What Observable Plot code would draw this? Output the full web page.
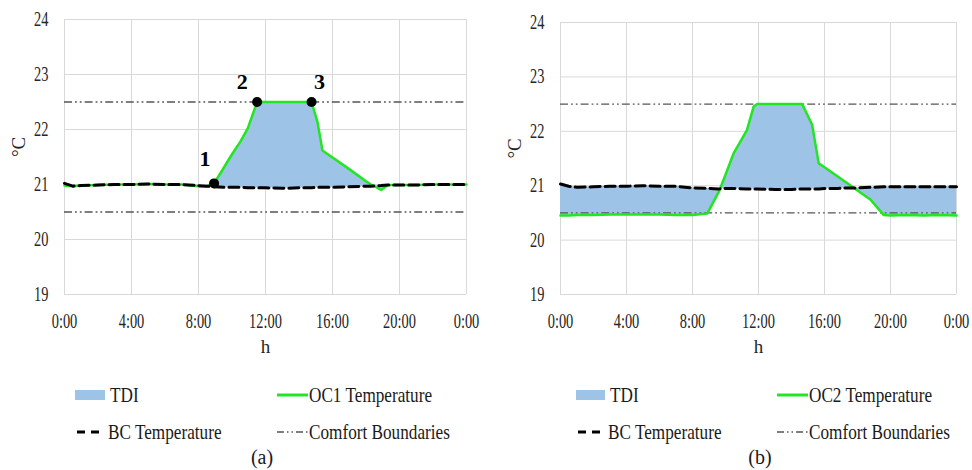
<!DOCTYPE html>
<html>
<head>
<meta charset="utf-8">
<script src="https://cdn.jsdelivr.net/npm/d3@7"></script>
<script src="https://cdn.jsdelivr.net/npm/@observablehq/plot@0.6"></script>
<style>
  html, body { margin: 0; padding: 0; background: #fff; }
  #page { position: relative; width: 972px; height: 470px; overflow: hidden; font-family: "Liberation Serif", "Times New Roman", serif; }
  #page > * { position: absolute; }
  #page svg { overflow: visible; }
</style>
</head>
<body>
<div id="page"></div>
<script>
// ---------- data ----------
const hourTicks = [0, 4, 8, 12, 16, 20, 24];
const tempTicks = [19, 20, 21, 22, 23, 24];
const comfort = [20.5, 22.5];

// panel (a)
const timesA = [0, 0.5, 1, 2, 3, 4, 5, 6, 7, 8, 8.5, 8.93, 9.5, 10, 10.5, 10.94, 11.5, 12, 13, 14, 14.75, 15.1, 15.4, 16, 17, 18, 18.3, 18.9, 19.3, 20, 21, 22, 23, 24];
const bcA = [21.02, 20.97, 20.98, 20.99, 21.0, 21.0, 21.01, 21.0, 21.0, 20.98, 20.97, 20.96, 20.95, 20.95, 20.95, 20.94, 20.94, 20.94, 20.93, 20.94, 20.94, 20.95, 20.95, 20.95, 20.96, 20.97, 20.97, 20.98, 20.99, 20.99, 20.99, 21.0, 21.0, 21.0];
const oc1 = [20.98, 20.97, 20.98, 20.99, 21.0, 21.0, 21.01, 21.0, 21.0, 20.97, 20.97, 21.02, 21.3, 21.55, 21.78, 22.02, 22.5, 22.5, 22.5, 22.5, 22.5, 22.14, 21.62, 21.49, 21.28, 21.06, 21.0, 20.9, 20.99, 20.99, 20.99, 21.0, 21.0, 21.0];
const pointHours = [8.93, 11.5, 14.75];
const pointTemps = [21.02, 22.5, 22.5];
const pointLabels = ["1", "2", "3"];

// panel (b)
const timesB = [0, 0.5, 1, 2, 3, 4, 5, 6, 7, 8, 8.9, 9.6, 10, 10.5, 11.3, 11.7, 11.9, 13, 14, 14.65, 15.25, 15.65, 16, 16.8, 17.6, 18, 18.8, 19.6, 20, 21, 22, 23, 24];
const bcB = [21.03, 20.99, 20.97, 20.98, 20.99, 20.99, 21.0, 20.99, 20.99, 20.96, 20.95, 20.94, 20.95, 20.95, 20.94, 20.94, 20.94, 20.93, 20.93, 20.94, 20.94, 20.94, 20.95, 20.95, 20.96, 20.96, 20.97, 20.98, 20.98, 20.98, 20.98, 20.98, 20.98];
const oc2 = [20.45, 20.45, 20.46, 20.46, 20.47, 20.47, 20.47, 20.47, 20.46, 20.46, 20.49, 20.89, 21.2, 21.6, 22.02, 22.45, 22.5, 22.5, 22.5, 22.5, 22.12, 21.41, 21.34, 21.17, 21.0, 20.91, 20.74, 20.46, 20.45, 20.46, 20.45, 20.46, 20.45];

const legendA = ["TDI", "OC1 Temperature", "BC Temperature", "Comfort Boundaries"];
const legendB = ["TDI", "OC2 Temperature", "BC Temperature", "Comfort Boundaries"];
const captions = ["(a)", "(b)"];

// ---------- styles ----------
const FONT = '"Liberation Serif", "Times New Roman", serif';
const GREEN = "#22e622";
const FILL = "#9dc3e6";
const GRID = "#d9d9d9";
const COMFORT_DASH = "8,3,1.8,3,1.8,3";

function panel({times, bc, oc, marginLeft, marginRight, marginTop, extra = []}) {
  const rows = times.map((t, i) => ({t, bc: bc[i], oc: oc[i]}));
  return Plot.plot({
    width: 486, height: 370,
    marginLeft, marginRight, marginTop, marginBottom: 76,
    x: {domain: [0, 24]},
    y: {domain: [19, 24]},
    style: {fontFamily: FONT, fontSize: "20px", color: "#262626", background: "white", overflow: "visible"},
    marks: [
      Plot.gridX(hourTicks, {stroke: GRID, strokeOpacity: 1, strokeWidth: 1}),
      Plot.gridY(tempTicks, {stroke: GRID, strokeOpacity: 1, strokeWidth: 1}),
      Plot.areaY(rows, {x: "t", y1: "bc", y2: "oc", fill: FILL}),
      Plot.ruleY(comfort, {stroke: "#555", strokeWidth: 1.3, strokeDasharray: COMFORT_DASH}),
      Plot.lineY(rows, {x: "t", y: "oc", stroke: GREEN, strokeWidth: 2.5}),
      Plot.lineY(rows, {x: "t", y: "bc", stroke: "#000", strokeWidth: 3, strokeDasharray: "10,5"}),
      Plot.axisX(hourTicks, {tickSize: 0, tickPadding: 19, tickFormat: h => `${h % 24}:00`, label: null}),
      Plot.axisY(tempTicks, {tickSize: 0, tickPadding: 16, tickFormat: d => String(d), label: null}),
      Plot.text(["°C"], {frameAnchor: "left", dx: -46, rotate: -90, fontSize: 19}),
      Plot.text(["h"], {frameAnchor: "bottom", dy: 58, fontSize: 19}),
      ...extra
    ]
  });
}

const pts = pointHours.map((h, i) => ({h, v: pointTemps[i], label: pointLabels[i]}));
const labelOffsets = [[-9, -24], [-15, -20], [8, -20]];
const annot = [
  Plot.dot(pts, {x: "h", y: "v", r: 5, fill: "#000"}),
  ...pts.map((p, i) => Plot.text([p], {x: "h", y: "v", text: "label", dx: labelOffsets[i][0], dy: labelOffsets[i][1], fontSize: 22, fontWeight: "bold", fill: "#000"}))
];

const page = document.getElementById("page");
const svgA = panel({times: timesA, bc: bcA, oc: oc1, marginLeft: 64, marginRight: 20, marginTop: 19, extra: annot});
const svgB = panel({times: timesB, bc: bcB, oc: oc2, marginLeft: 74, marginRight: 16, marginTop: 22});
svgA.style.left = "0px"; svgA.style.top = "0px";
svgB.style.left = "486px"; svgB.style.top = "0px";
page.appendChild(svgA);
page.appendChild(svgB);

// condense text horizontally (narrow serif look)
function condense(sel, k) {
  sel.forEach(t => {
    const tr = t.getAttribute("transform");
    if (tr) {
      t.setAttribute("transform", tr + ` scale(${k},1)`);
    } else {
      const x = +t.getAttribute("x") || 0;
      t.setAttribute("transform", `translate(${x},0) scale(${k},1) translate(${-x},0)`);
    }
  });
}
[svgA, svgB].forEach(s => condense(s.querySelectorAll('g[aria-label$="tick label"] text'), 0.72));

// ---------- legends ----------
const leg = d3.select(page).append("svg")
  .attr("width", 972).attr("height", 100)
  .style("left", "0px").style("top", "370px")
  .attr("font-family", FONT).attr("font-size", 20).attr("fill", "#1a1a1a");

function legend(names, caption, o) {
  const g = leg.append("g");
  g.append("rect").attr("x", o.c1).attr("y", 20).attr("width", o.sw).attr("height", 10).attr("fill", FILL);
  g.append("text").attr("x", o.c1 + o.sw + 5).attr("y", 25).attr("dy", "0.35em").attr("class", "lt").text(names[0]);
  g.append("line").attr("x1", o.c2).attr("x2", o.c2 + 31).attr("y1", 25).attr("y2", 25).attr("stroke", GREEN).attr("stroke-width", 3);
  g.append("text").attr("x", o.c2 + 32).attr("y", 25).attr("dy", "0.35em").attr("class", "lt").text(names[1]);
  g.append("line").attr("x1", o.c1 + 2).attr("x2", o.c1 + 24).attr("y1", 62).attr("y2", 62).attr("stroke", "#000").attr("stroke-width", 3).attr("stroke-dasharray", "8,6");
  g.append("text").attr("x", o.c1 + o.bcText).attr("y", 62).attr("dy", "0.35em").attr("class", "lt").text(names[2]);
  g.append("line").attr("x1", o.c2).attr("x2", o.c2 + 31).attr("y1", 62).attr("y2", 62).attr("stroke", "#555").attr("stroke-width", 1.5).attr("stroke-dasharray", "7,3,1.5,3,1.5,3");
  g.append("text").attr("x", o.c2 + 32).attr("y", 62).attr("dy", "0.35em").attr("class", "lt").text(names[3]);
  g.append("text").attr("x", o.cap).attr("y", 87).attr("dy", "0.35em").attr("text-anchor", "middle").text(caption);
}
legend(legendA, captions[0], {c1: 75, sw: 30, c2: 277, bcText: 33, cap: 262});
legend(legendB, captions[1], {c1: 576, sw: 29, c2: 777, bcText: 32, cap: 760});
condense(leg.node().querySelectorAll("text.lt"), 0.86);
</script>
</body>
</html>
